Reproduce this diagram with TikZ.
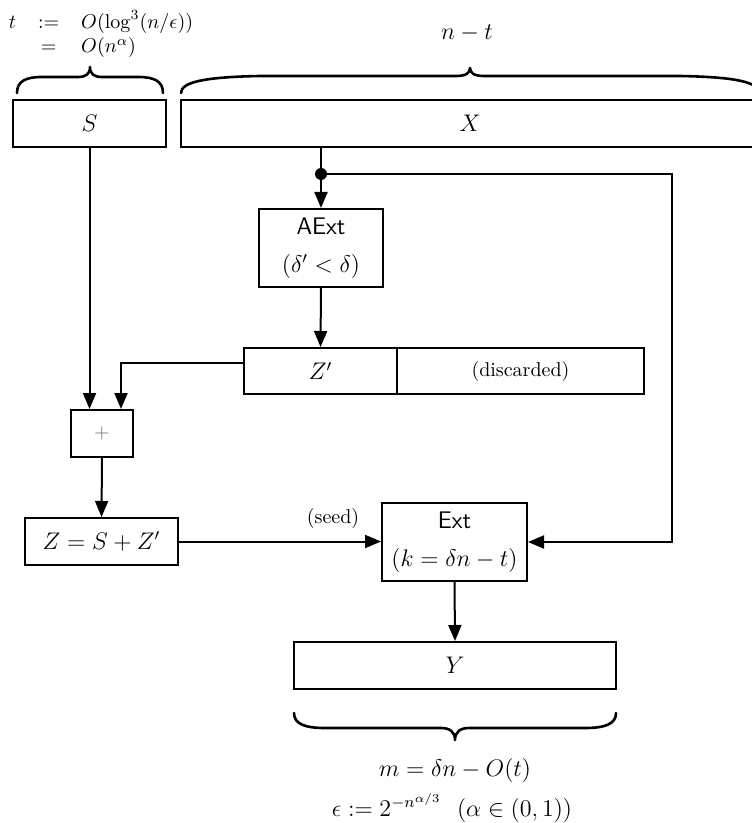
\documentclass[tikz,border=0pt]{standalone}
\usetikzlibrary{arrows.meta,calc}
\begin{document}
\begin{tikzpicture}[x=0.5pt,y=-0.5pt,
  box/.style={draw,line width=1pt,inner sep=0pt,minimum height=23.5pt,font=\large},
  tallbox/.style={box,minimum height=39pt,align=center},
  wire/.style={line width=1pt},
  arr/.style={line width=1pt,-{Triangle[length=8pt,width=6.5pt]}},
  brc/.style={line width=1.3pt,line cap=round,line join=round}]
\useasboundingbox (0,0) rectangle (751,823);
% top-left definitions
\node[inner sep=0pt] (tdef) at (101,35) {$\arraycolsep=5.5pt\begin{array}{rcl} t & := & O(\log^3(n/\epsilon))\\ & = & O(n^\alpha)\end{array}$};
\node[inner sep=0pt,font=\large] (nt) at (467,33) {$n-t$};
% boxes
\node[box,minimum width=76.5pt] (S) at (89.5,123.5) {$S$};
\node[box,minimum width=289pt] (X) at (470,123.5) {$X$};
\node[tallbox,minimum width=62pt] (AExt) at (321,248) {\textsf{AExt}\\[5pt]$(\delta'<\delta)$};
\node[box,minimum width=76.5pt,minimum height=23pt] (Zp) at (320.5,371) {$Z'$};
\node[box,minimum width=123.5pt,minimum height=23pt,font=\normalsize] (disc) at (520.5,371) {(discarded)};
\node[box,minimum width=31pt,text=black!55,font=\normalsize] (plus) at (102,433.5) {$+$};
\node[box,minimum width=76.5pt] (Z) at (101.5,541.5) {$Z=S+Z'$};
\node[tallbox,minimum width=72.5pt] (Ext) at (454.5,542) {\textsf{Ext}\\[5pt]$(k=\delta n-t)$};
\node[box,minimum width=161pt] (Y) at (455,665.5) {$Y$};
% braces
\draw[brc] (17,93) .. controls (17,81) and (26,77) .. (42,77) -- (78,77)
  .. controls (86,77) and (90,74) .. (90,67)
  .. controls (90,74) and (94,77) .. (102,77) -- (138,77)
  .. controls (154,77) and (163,81) .. (163,93);
\draw[brc] (181,93) .. controls (181,82) and (205,77) .. (260,76) -- (456,76)
  .. controls (466,76) and (470,73) .. (470,68)
  .. controls (470,73) and (474,76) .. (484,76) -- (680,76)
  .. controls (735,77) and (759,82) .. (759,93);
\draw[brc] (294,713) .. controls (294,724) and (305,728) .. (325,728) -- (441,728)
  .. controls (450,728) and (455,732) .. (455,740)
  .. controls (455,732) and (460,728) .. (469,728) -- (585,728)
  .. controls (605,728) and (616,724) .. (616,713);
\node[inner sep=0pt,font=\large] (m) at (455,770) {$m=\delta n-O(t)$};
\node[inner sep=0pt,font=\large] (eps) at (452,808) {$\epsilon:=2^{-n^{\alpha/3}}\ \ (\alpha\in(0,1))$};
% connectors
\coordinate (dot) at (321,174);
\coordinate (rc) at (672,542);
\draw[wire] (X.south -| dot) -- (dot);
\fill (dot) circle (3pt);
\draw[arr] (dot) -- (AExt.north);
\draw[arr] (dot) -| (rc) -- (Ext.east);
\draw[arr] (AExt.south) -- (Zp.north);
\draw[arr] (S.south) -- (S.south |- plus.north);
\draw[arr] ([yshift=4pt]Zp.west) -| ([xshift=9.5pt]plus.north);
\draw[arr] (plus.south) -- (Z.north);
\draw[arr] (Z.east) -- (Z.east -| Ext.west);
\node[inner sep=0pt] (seed) at (333,518) {(seed)};
\draw[arr] (Ext.south) -- (Y.north);
\end{tikzpicture}
\end{document}
